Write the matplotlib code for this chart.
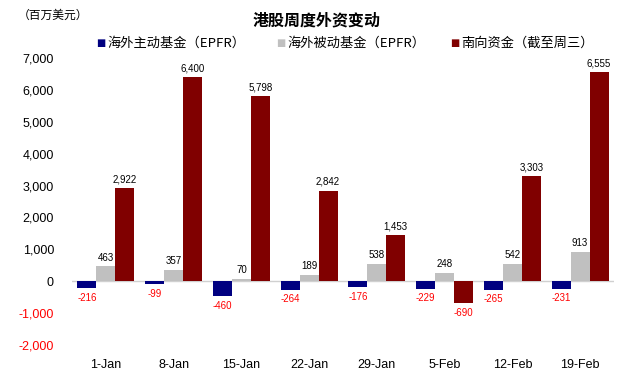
import matplotlib
matplotlib.use("Agg")
import matplotlib.pyplot as plt
import numpy as np

plt.rcParams['font.family'] = ['Liberation Sans', 'Noto Sans CJK SC', 'DejaVu Sans']
CJK = ['Noto Sans CJK SC', 'DejaVu Sans']

categories = ['1-Jan', '8-Jan', '15-Jan', '22-Jan', '29-Jan', '5-Feb', '12-Feb', '19-Feb']
active = [-216, -99, -460, -264, -176, -229, -265, -231]
passive = [463, 357, 70, 189, 538, 248, 542, 913]
southbound = [2922, 6400, 5798, 2842, 1453, -690, 3303, 6555]
series_names = ['海外主动基金（EPFR）', '海外被动基金（EPFR）', '南向资金（截至周三）']
colors = ['#000080', '#C0C0C0', '#800000']
yticks = [-2000, -1000, 0, 1000, 2000, 3000, 4000, 5000, 6000, 7000]

W, H = 625, 380
fig = plt.figure(figsize=(W/100, H/100), dpi=100)
ax = fig.add_axes([72/W, 35/H, 542/W, 287/H])

x = np.arange(len(categories))
bw = 0.28
for i, (vals, c) in enumerate(zip([active, passive, southbound], colors)):
    xs = x + (i - 1) * bw
    ax.bar(xs, vals, width=bw, color=c, zorder=3)
    for xi, v in zip(xs, vals):
        if v >= 0:
            ax.text(xi, v + 120, f'{v:,}', ha='center', va='bottom', fontsize=7, color='black')
        else:
            ax.text(xi, v - 150, f'{v:,}', ha='center', va='top', fontsize=7, color='red')

ax.set_xlim(-0.5, len(categories) - 0.5)
ax.set_ylim(-2000, 7000)
ax.set_yticks(yticks)
ax.set_yticklabels([f'{t:,}' for t in yticks], fontsize=9)
for lbl, t in zip(ax.get_yticklabels(), yticks):
    lbl.set_color('red' if t < 0 else 'black')
ax.set_xticks(x)
ax.set_xticklabels(categories, fontsize=9)
ax.tick_params(axis='y', length=0, pad=13)
ax.tick_params(axis='x', length=0, pad=10)
for s in ax.spines.values():
    s.set_visible(False)
ax.axhline(0, color='#d0d0d0', lw=1, zorder=2)

fig.text(317/W, 1 - 20/H, '港股周度外资变动', ha='center', va='center', fontsize=11.5, fontweight='bold',
         family=CJK)
fig.text(18/W, 1 - 15/H, '（百万美元）', ha='left', va='center', fontsize=8.5, family=CJK)

leg_x = [101, 281, 455]
for lx, name, c in zip(leg_x, series_names, colors):
    fig.text(lx/W, 1 - 43/H, '■', ha='center', va='center', fontsize=7, color=c, family=['DejaVu Sans'])
    fig.text((lx + 6)/W, 1 - 43/H, name, ha='left', va='center', fontsize=9.5, family=CJK)

fig.savefig('out.png', dpi=100)
